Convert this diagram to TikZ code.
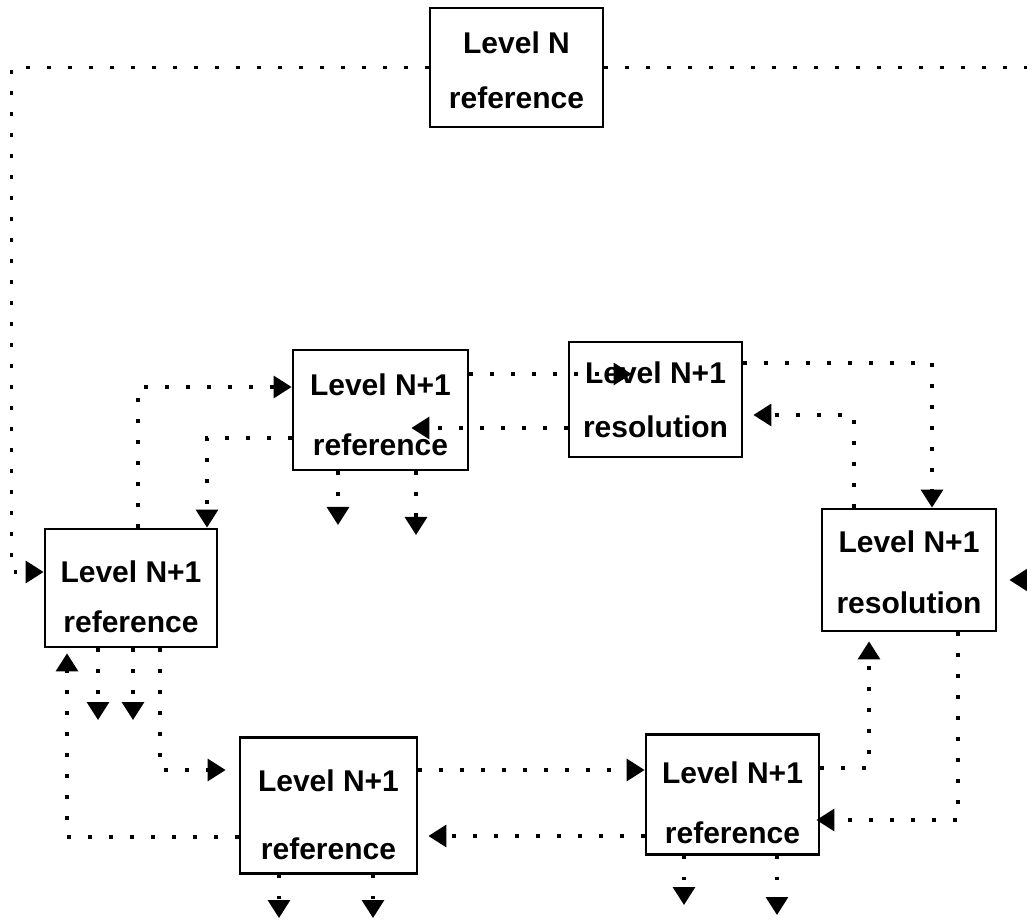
\documentclass[tikz,border=0pt]{standalone}
\usepackage{fontspec}
\setmainfont{Liberation Sans}
\usetikzlibrary{arrows.meta}
% two centred lines of box text; #1 lowers the text, #2 is the baseline distance
\newcommand\twoline[4]{\raisebox{-#1}[\height][\depth]{\fontsize{30}{#2}\selectfont\begin{tabular}{@{}c@{}}#3\\#4\end{tabular}}}
\begin{document}
\begin{tikzpicture}[x=1pt,y=1pt,
  box/.style={draw=black, line width=2.8pt, rectangle, inner sep=0pt, font=\bfseries},
  link/.style={line width=3.2pt, dash pattern=on 3.2pt off 17.8pt},
  tip/.style={-{Triangle[length=18pt,width=22pt]}}]
\useasboundingbox (0,0) rectangle (1027,921);
\clip (0,0) rectangle (1027,921);

% boxes
\node[box, minimum width=173pt, minimum height=119pt] (T) at (516.5,853.5) {\twoline{3pt}{55pt}{Level N}{reference}};
\node[box, minimum width=175pt, minimum height=114pt] (R1) at (380.5,511) {\twoline{4pt}{60pt}{Level N+1}{reference}};
\node[box, minimum width=173pt, minimum height=115pt] (Res1) at (655.5,521.5) {\twoline{0.7pt}{54pt}{Level N+1}{resolution}};
\node[box, minimum width=172pt, minimum height=118pt] (L) at (131,333) {\twoline{10pt}{50pt}{Level N+1}{reference}};
\node[box, minimum width=174pt, minimum height=116pt] (Res2) at (909,351) {\twoline{1.3pt}{61pt}{Level N+1}{resolution}};
\node[box, minimum width=177pt, minimum height=115pt] (R2) at (328.5,115.5) {\twoline{6pt}{68pt}{Level N+1}{reference}};
\node[box, minimum width=173pt, minimum height=115pt] (R3) at (732.5,126.5) {\twoline{6.5pt}{60pt}{Level N+1}{reference}};

% free ends
\coordinate (rim) at (1045,341);
\coordinate (L-o1) at (98,201);
\coordinate (L-o2) at (133,201);
\coordinate (R1-o1) at (338,396);
\coordinate (R1-o2) at (416,386);
\coordinate (R2-o1) at (279,3);
\coordinate (R2-o2) at (373,3);
\coordinate (R3-o1) at (684,16);
\coordinate (R3-o2) at (777,6);

% connectors from the top box
\draw[link,tip] (T.west) -- ++(-417,0) |- ([yshift=16pt]L.west);
\draw[link,tip] (T.east) -| (rim) -- ([shift={(12pt,-10pt)}]Res2.east);

% upper ring
\draw[link,tip] ([xshift=7pt]L.north) |- ([yshift=23pt]R1.west);
\draw[link,tip] ([yshift=-28pt]R1.west) -| ([xshift=76pt]L.north);
\draw[link,tip] ([yshift=36pt]R1.east) -- ([shift={(64pt,25.5pt)}]Res1.west);
\draw[link,tip] ([yshift=-28.5pt]Res1.west) -- ([shift={(-58pt,-18pt)}]R1.east);
\draw[link,tip] ([yshift=36.5pt]Res1.east) -| ([xshift=23pt]Res2.north);
\draw[link,tip] ([xshift=-55pt]Res2.north) |- ([shift={(10pt,-15.5pt)}]Res1.east);

% lower ring
\draw[link,tip] ([xshift=49pt]Res2.south) |- ([shift={(-4pt,-25.5pt)}]R3.east);
\draw[link,tip] ([yshift=26.5pt]R3.east) -| ([shift={(-40pt,-9pt)}]Res2.south);
\draw[link,tip] ([yshift=35.5pt]R2.east) -- ([yshift=24.5pt]R3.west);
\draw[link,tip] ([yshift=-41.5pt]R3.west) -- ([shift={(10pt,-30.5pt)}]R2.east);
\draw[link,tip] ([yshift=-31.5pt]R2.west) -| ([shift={(-64pt,-5pt)}]L.south);
\draw[link,tip] ([xshift=29pt]L.south) |- ([shift={(-13pt,35.5pt)}]R2.west);

% outgoing stubs
\foreach \b in {L,R1,R2,R3}{
  \draw[link,tip] (\b.south -| \b-o1) -- (\b-o1);
  \draw[link,tip] (\b.south -| \b-o2) -- (\b-o2);
}
\end{tikzpicture}
\end{document}
